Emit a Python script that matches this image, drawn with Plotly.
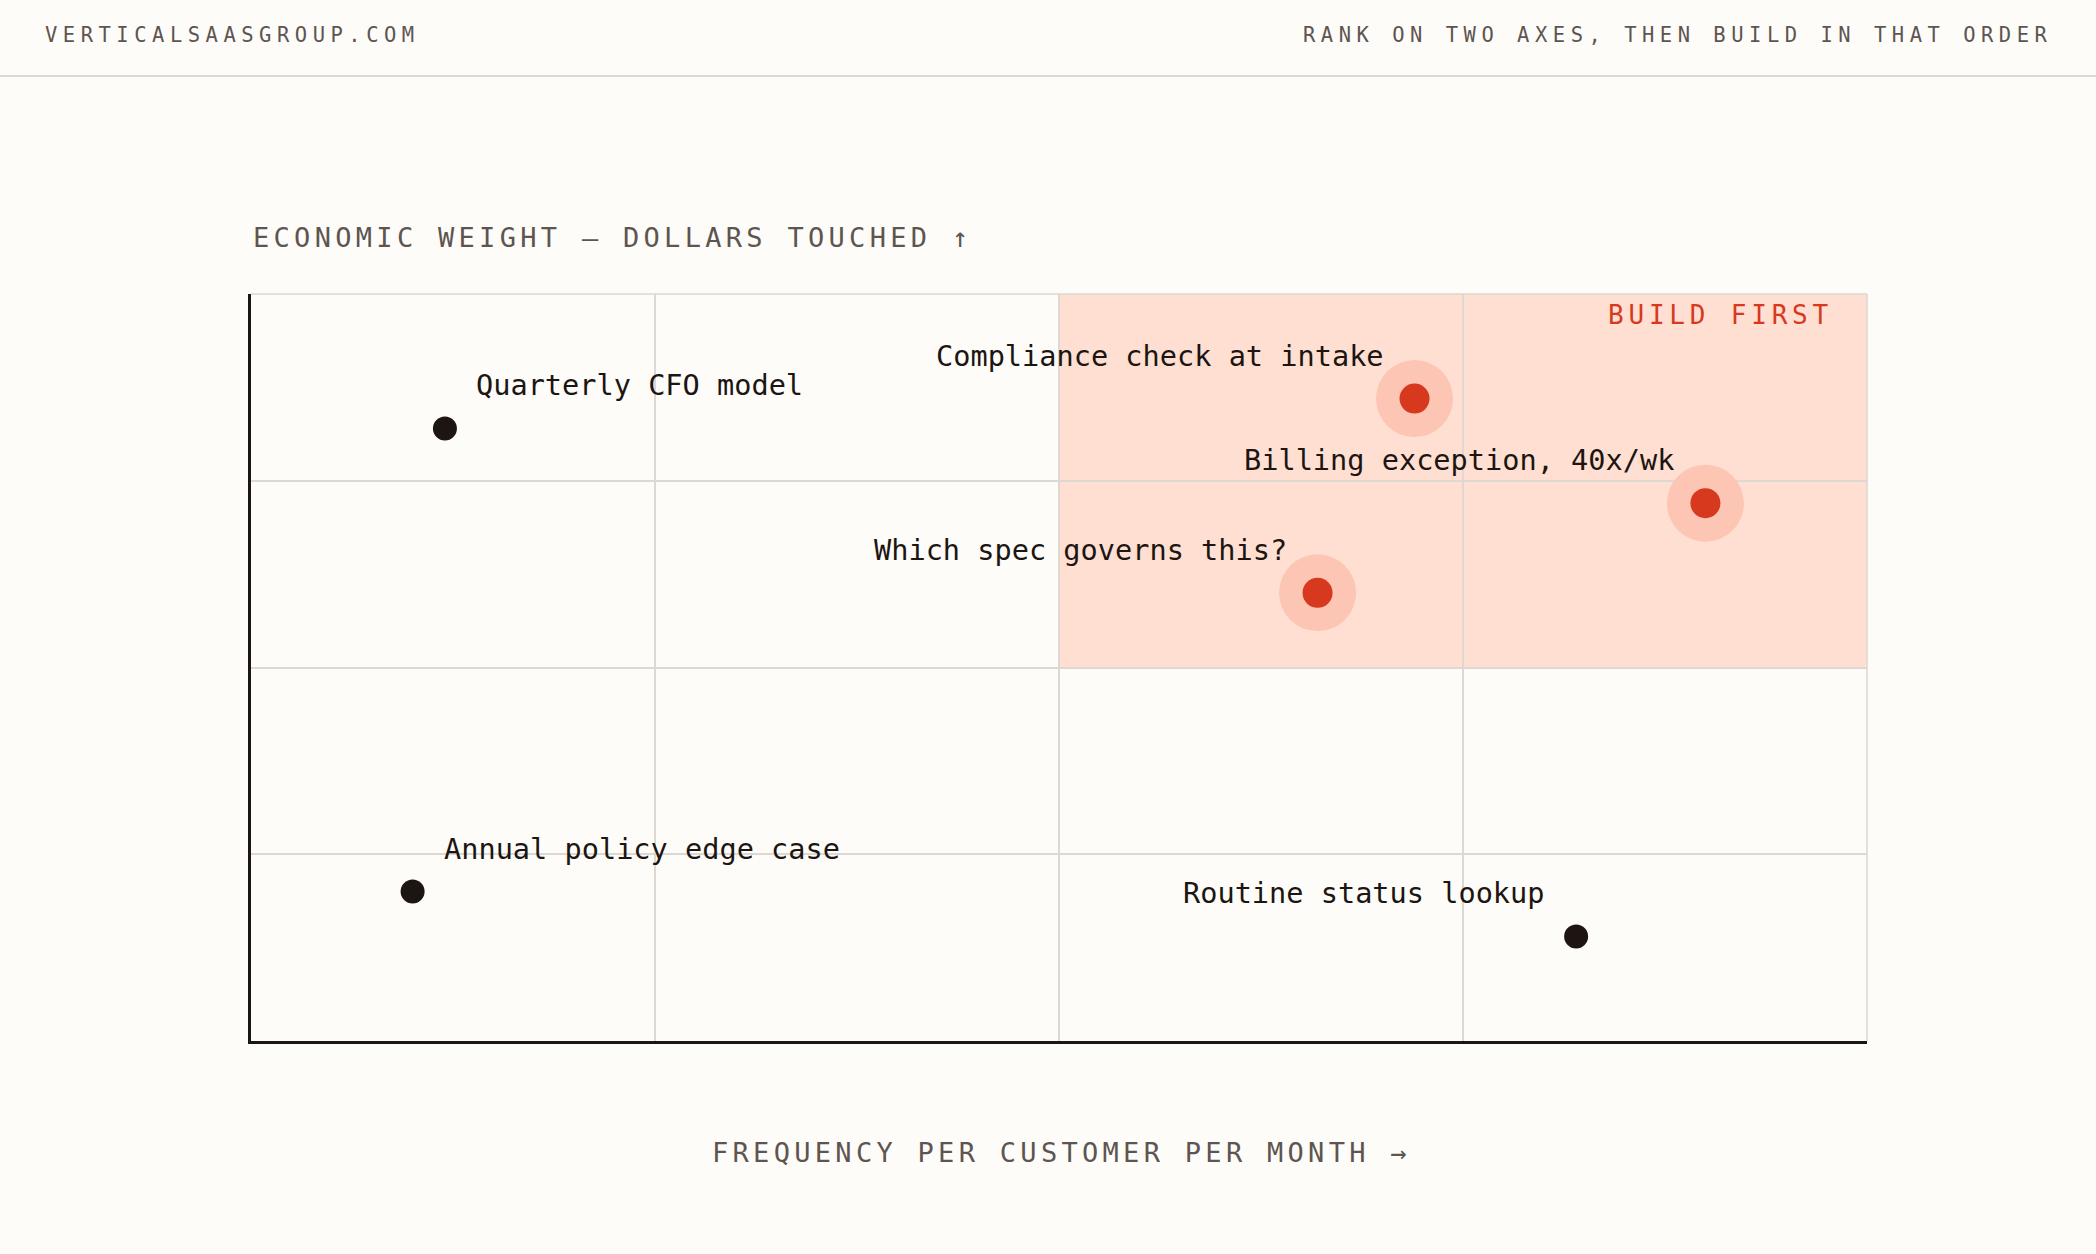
import plotly.graph_objects as go

# data
tasks = [
    "Quarterly CFO model",
    "Annual policy edge case",
    "Routine status lookup",
    "Compliance check at intake",
    "Billing exception, 40x/wk",
    "Which spec governs this?",
]
frequency = [12, 10, 82, 72, 90, 66]      # x: frequency per customer per month
weight = [82, 20, 14, 86, 72, 60]         # y: economic weight
build_first = [False, False, False, True, True, True]

zone_x = [50, 100]
zone_y = [50, 100]
grid_step = 25

header_left = "VERTICALSAASGROUP.COM"
header_right = "RANK ON TWO AXES, THEN BUILD IN THAT ORDER"
y_title = "ECONOMIC WEIGHT — DOLLARS TOUCHED ↑"
x_title = "FREQUENCY PER CUSTOMER PER MONTH →"
zone_label = "BUILD FIRST"

# colours / fonts
BG = "#FDFCF8"
GRID = "#DDD8D1"
INK = "#1C1511"
MUTED = "#5E5550"
RED = "#D7391E"
HALO = "#FCC5B4"
ZONE = "#FFDFD2"
MONO = "DejaVu Sans Mono"


def spaced(txt, px):
    # letter-spaced caps like the original
    return '<span style="letter-spacing:%spx">%s</span>' % (px, txt)


fig = go.Figure()

hot_x = [x for x, b in zip(frequency, build_first) if b]
hot_y = [y for y, b in zip(weight, build_first) if b]
cold_x = [x for x, b in zip(frequency, build_first) if not b]
cold_y = [y for y, b in zip(weight, build_first) if not b]

# halo + red dot for the build-first tasks
fig.add_trace(go.Scatter(x=hot_x, y=hot_y, mode="markers",
                         marker=dict(size=77, color=HALO, line=dict(width=0)),
                         hoverinfo="skip"))
fig.add_trace(go.Scatter(x=hot_x, y=hot_y, mode="markers",
                         marker=dict(size=30, color=RED, line=dict(width=0))))
# plain dark dots
fig.add_trace(go.Scatter(x=cold_x, y=cold_y, mode="markers",
                         marker=dict(size=24, color=INK, line=dict(width=0))))

# labels, right of the dot in the left half, left of it otherwise
for name, x, y in zip(tasks, frequency, weight):
    right = x < 50
    fig.add_annotation(x=x, y=y, text=name, showarrow=False,
                       xanchor="left" if right else "right", yanchor="middle",
                       xshift=29 if right else -29, yshift=43,
                       font=dict(family=MONO, size=28.6, color=INK))

# build-first quadrant
fig.add_shape(type="rect", x0=zone_x[0], x1=zone_x[1], y0=zone_y[0], y1=zone_y[1],
              fillcolor=ZONE, line=dict(width=0), layer="below")
fig.add_annotation(xref="paper", yref="paper", x=1, y=1, xshift=-32, yshift=-21,
                   xanchor="right", yanchor="middle", showarrow=False,
                   text=spaced(zone_label, 4.8),
                   font=dict(family=MONO, size=26, color=RED))

# light top/right border
fig.add_shape(type="line", xref="paper", yref="paper", x0=0, x1=1, y0=1, y1=1,
              line=dict(color=GRID, width=1.5))
fig.add_shape(type="line", xref="paper", yref="paper", x0=1, x1=1, y0=0, y1=1,
              line=dict(color=GRID, width=1.5))

# header
fig.add_shape(type="line", xref="paper", yref="paper", x0=-0.2, x1=1.2,
              y0=1.2918, y1=1.2918, line=dict(color=GRID, width=2))
fig.add_annotation(xref="paper", yref="paper", x=-0.1287, y=1.3467,
                   xanchor="left", yanchor="middle", showarrow=False,
                   text=spaced(header_left, 5.5),
                   font=dict(family=MONO, size=20.5, color=MUTED))
fig.add_annotation(xref="paper", yref="paper", x=1.1126, y=1.3467, xshift=5,
                   xanchor="right", yanchor="middle", showarrow=False,
                   text=spaced(header_right, 5.5),
                   font=dict(family=MONO, size=20.5, color=MUTED))

# axis titles
fig.add_annotation(xref="paper", yref="paper", x=0, y=1.0763,
                   xanchor="left", yanchor="middle", showarrow=False,
                   text=spaced(y_title, 4.3),
                   font=dict(family=MONO, size=27, color=MUTED))
fig.add_annotation(xref="paper", yref="paper", x=0.5, y=-0.1486, xshift=2,
                   xanchor="center", yanchor="middle", showarrow=False,
                   text=spaced(x_title, 4.3),
                   font=dict(family=MONO, size=27, color=MUTED))

fig.update_xaxes(range=[0, 100], dtick=grid_step, showgrid=True, gridcolor=GRID,
                 gridwidth=1.5, zeroline=False, showticklabels=False, ticks="",
                 showline=True, linecolor=INK, linewidth=2.5, fixedrange=True)
fig.update_yaxes(range=[0, 100], dtick=grid_step, showgrid=True, gridcolor=GRID,
                 gridwidth=1.5, zeroline=False, showticklabels=False, ticks="",
                 showline=True, linecolor=INK, linewidth=2.5, fixedrange=True)

fig.update_layout(
    width=2096, height=1254,
    margin=dict(l=251, r=229, t=294, b=213),
    paper_bgcolor=BG, plot_bgcolor=BG,
    showlegend=False,
    font=dict(family=MONO),
)

# drop the default page margin so the figure sits at 0,0
fig.write_html("out.html", config={"displayModeBar": False},
               post_script="document.body.style.margin='0';"
                           "document.body.style.background='%s';" % BG)
